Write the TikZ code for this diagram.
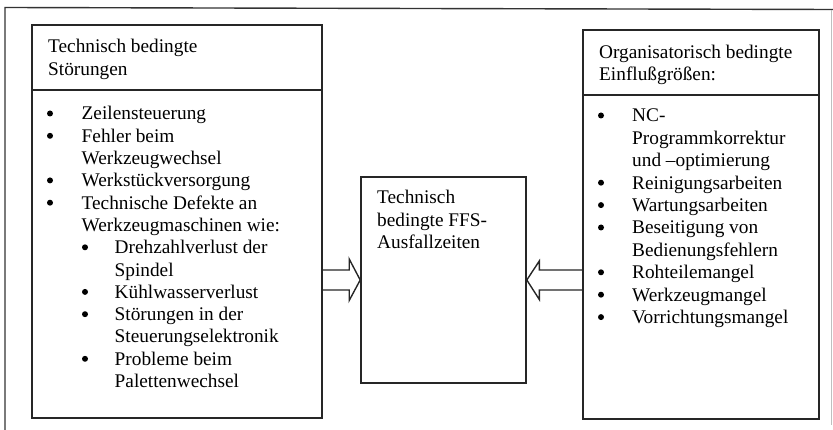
\documentclass[tikz,border=0pt]{standalone}
\usepackage{fontspec}
\setmainfont{Liberation Serif}
\usetikzlibrary{calc}
% multi-line text whose baseline is that of its first line
\newcommand{\stacktext}[1]{\begin{tabular}[t]{@{}l@{}}#1\end{tabular}}
\begin{document}
\begin{tikzpicture}[x=1pt,y=-1pt,
  box/.style={draw=black!85, line width=1.6pt, inner sep=0pt},
  rule/.style={draw=black!85, line width=1.5pt},
  txt/.style={inner sep=0pt, anchor=base west,
    font=\fontsize{19.3}{22.3}\selectfont},
  dot/.style={fill=black, circle, inner sep=0pt, minimum size=6pt},
  blockarrow/.style={draw=black!85, line width=1.4pt, line join=miter}
]
\useasboundingbox (0,0) rectangle (833,430);

% outer frame
\draw[line width=1.4pt, black!80] (5,430) -- (5,7.5) -- (833,9.5);
\draw[line width=0.9pt, black!25] (831.5,10) -- (831.5,425);

% the three boxes
\node[box, minimum width=290pt, minimum height=393pt] (L) at (177,221.5) {};
\node[box, minimum width=165pt, minimum height=206pt] (M) at (443.5,280) {};
\node[box, minimum width=236pt, minimum height=389pt] (R) at (701,224.5) {};

% header rules
\coordinate (Lh) at (0,90);
\coordinate (Rh) at (0,95);
\draw[rule] (L.west |- Lh) -- (L.east |- Lh);
\draw[rule] (R.west |- Rh) -- (R.east |- Rh);

% block arrows into the middle box
\draw[blockarrow]
  ($(L.east |- M.west)+(0,-10)$) -- ($(M.west)+(-11,-10)$) -- ($(M.west)+(-11,-21)$)
  -- (M.west) -- ($(M.west)+(-11,20.5)$) -- ($(M.west)+(-11,10)$)
  -- ($(L.east |- M.west)+(0,10)$);
\draw[blockarrow]
  ($(R.west |- M.east)+(0,-10)$) -- ($(M.east)+(12.5,-10)$) -- ($(M.east)+(12.5,-19)$)
  -- (M.east) -- ($(M.east)+(12.5,19.5)$) -- ($(M.east)+(12.5,10)$)
  -- ($(R.west |- M.east)+(0,10)$);

% left box
\node[txt] (Lhead) at (48,53) {\stacktext{Technisch bedingte\\Störungen}};
\node[txt] (l1) at (81.5,120)   {Zeilensteuerung};
\node[txt] (l2) at (81.5,142.3) {\stacktext{Fehler beim\\Werkzeugwechsel}};
\node[txt] (l3) at (81.5,186.9) {Werkstückversorgung};
\node[txt] (l4) at (81.5,209.2) {\stacktext{Technische Defekte an\\Werkzeugmaschinen wie:}};
\node[txt] (l5) at (114.5,253.8) {\stacktext{Drehzahlverlust der\\Spindel}};
\node[txt] (l6) at (114.5,298.4) {Kühlwasserverlust};
\node[txt] (l7) at (114.5,320.7) {\stacktext{Störungen in der\\Steuerungselektronik}};
\node[txt] (l8) at (114.5,365.3) {\stacktext{Probleme beim\\Palettenwechsel}};
\foreach \yy in {120,142.3,186.9,209.2}
  \node[dot] at (50,\yy-6.5) {};
\foreach \yy in {253.8,298.4,320.7,365.3}
  \node[dot] at (85,\yy-6.5) {};

% middle box
\node[txt] (Mtext) at (377,204) {\stacktext{Technisch\\bedingte FFS-\\Ausfallzeiten}};

% right box
\node[txt] (Rhead) at (599,58.5) {\stacktext{Organisatorisch bedingte\\Einflußgrößen:}};
\node[txt] (r1) at (632,122)   {\stacktext{NC-\\Programmkorrektur\\und –optimierung}};
\node[txt] (r2) at (632,189.2) {Reinigungsarbeiten};
\node[txt] (r3) at (632,211.6) {Wartungsarbeiten};
\node[txt] (r4) at (632,234)   {\stacktext{Beseitigung von\\Bedienungsfehlern}};
\node[txt] (r5) at (632,278.8) {Rohteilemangel};
\node[txt] (r6) at (632,301.2) {Werkzeugmangel};
\node[txt] (r7) at (632,323.6) {Vorrichtungsmangel};
\foreach \yy in {122,189.2,211.6,234,278.8,301.2,323.6}
  \node[dot] at (601,\yy-6.5) {};
\end{tikzpicture}
\end{document}
